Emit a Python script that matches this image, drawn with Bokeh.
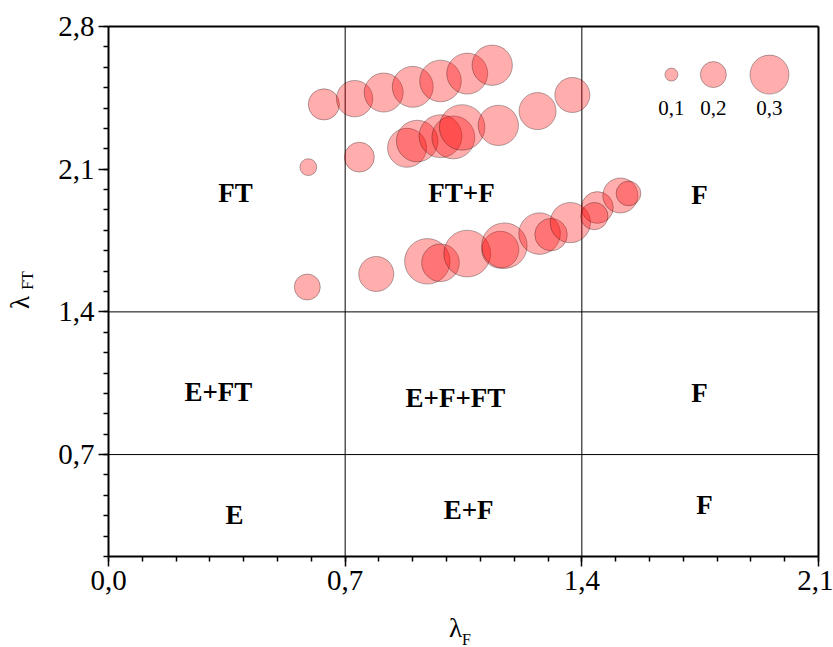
import math
from bokeh.plotting import figure
from bokeh.models import FixedTicker, LinearAxis, Range1d, ColumnDataSource
from bokeh.embed import file_html
from bokeh.resources import INLINE
from bokeh.core.properties import value

# ---------------- data ----------------
# upper series
s1_x = [0.637, 0.728, 0.814, 0.900, 0.982, 1.061, 1.135]
s1_y = [2.418, 2.446, 2.476, 2.504, 2.533, 2.569, 2.610]
s1_v = [0.24, 0.28, 0.30, 0.315, 0.32, 0.315, 0.31]
# middle series
s2_x = [0.591, 0.742, 0.883, 0.913, 0.982, 1.020, 1.046, 1.153, 1.269, 1.372]
s2_y = [2.110, 2.159, 2.205, 2.238, 2.262, 2.256, 2.305, 2.315, 2.385, 2.464]
s2_v = [0.13, 0.23, 0.30, 0.32, 0.33, 0.33, 0.35, 0.31, 0.285, 0.27]
# lower series
s3_x = [0.588, 0.792, 0.943, 0.982, 1.061, 1.159, 1.171, 1.275, 1.309, 1.366, 1.446, 1.437, 1.514, 1.538]
s3_y = [1.522, 1.586, 1.648, 1.641, 1.686, 1.705, 1.725, 1.784, 1.779, 1.838, 1.912, 1.870, 1.971, 1.981]
s3_v = [0.20, 0.27, 0.35, 0.29, 0.36, 0.285, 0.35, 0.32, 0.25, 0.31, 0.245, 0.21, 0.27, 0.19]

# size legend
legend_v = [0.1, 0.2, 0.3]
legend_labels = ["0,1", "0,2", "0,3"]
legend_x = [1.665, 1.789, 1.955]
legend_y = [2.564, 2.564, 2.564]
legend_label_y = [2.40, 2.40, 2.40]

# region labels
region_text = ["FT", "FT+F", "F", "E+FT", "E+F+FT", "F", "E", "E+F", "F"]
region_x = [0.376, 1.044, 1.748, 0.325, 1.026, 1.748, 0.373, 1.065, 1.763]
region_y = [1.981, 1.981, 1.971, 1.007, 0.977, 1.002, 0.402, 0.426, 0.451]

# region boundaries
x_bounds = [0.7, 1.4]
y_bounds = [0.7, 1.4]

# axes
x_min, x_max = 0.0, 2.1
y_min, y_max = 0.2, 2.8
x_ticks = [0.0, 0.7, 1.4, 2.1]
x_tick_labels = ["0,0", "0,7", "1,4", "2,1"]
y_ticks = [0.7, 1.4, 2.1, 2.8]
y_tick_labels = ["0,7", "1,4", "2,1", "2,8"]
x_minor = [round(i * 0.1, 1) for i in range(0, 22)]
y_minor = [round(i * 0.1, 1) for i in range(2, 29)]

# ---------------- layout ----------------
W, H = 833, 647
FRAME_L, FRAME_R, FRAME_T, FRAME_B = 108, 818, 26, 556   # pixel box of the axes
kx = (FRAME_R - FRAME_L) / (x_max - x_min)
ky = (FRAME_B - FRAME_T) / (y_max - y_min)
xr = Range1d(x_min - FRAME_L / kx, x_min + (W - FRAME_L) / kx)
yr = Range1d(y_max - (H - FRAME_T) / ky, y_max + FRAME_T / ky)

def px_x(px):
    return x_min + (px - FRAME_L) / kx

def px_y(py):
    return y_min + (FRAME_B - py) / ky

PX_PER_UNIT = 130  # bubble diameter in px per unit of value
SERIF = "Liberation Serif"

p = figure(width=W, height=H, x_range=xr, y_range=yr, output_backend="svg",
           toolbar_location=None, x_axis_location=None, y_axis_location=None, min_border=0)
p.grid.visible = False
p.outline_line_color = None
p.background_fill_color = "white"
p.border_fill_color = "white"

xaxis = LinearAxis(fixed_location=y_min, bounds=(x_min, x_max))
yaxis = LinearAxis(fixed_location=x_min, bounds=(y_min, y_max))
for ax, ticks, labels, minor in ((xaxis, x_ticks, x_tick_labels, x_minor),
                                 (yaxis, y_ticks, y_tick_labels, y_minor)):
    ax.ticker = FixedTicker(ticks=ticks, minor_ticks=minor)
    ax.major_label_overrides = {t: l for t, l in zip(ticks, labels)}
    ax.axis_line_width = 2
    ax.major_tick_in = 0
    ax.major_tick_out = 10
    ax.minor_tick_in = 0
    ax.minor_tick_out = 5
    ax.major_tick_line_width = 1.5
    ax.minor_tick_line_width = 1.5
    ax.major_label_text_font = SERIF
    ax.major_label_text_font_size = "29px"
    ax.major_label_text_color = "black"
    ax.major_label_standoff = 4
p.add_layout(xaxis, "below")
p.add_layout(yaxis, "left")

# top and right frame lines
p.segment(x0=[x_min, x_max], y0=[y_max, y_min], x1=[x_max, x_max], y1=[y_max, y_max],
          line_color="black", line_width=2)

# region boundary lines
p.segment(x0=x_bounds, y0=[y_min] * len(x_bounds), x1=x_bounds, y1=[y_max] * len(x_bounds),
          line_color="black", line_width=1)
p.segment(x0=[x_min] * len(y_bounds), y0=y_bounds, x1=[x_max] * len(y_bounds), y1=y_bounds,
          line_color="black", line_width=1)

bubble_style = dict(fill_color="red", fill_alpha=0.32, line_color="black", line_alpha=0.3, line_width=1)
for xs, ys, vs in ((s1_x, s1_y, s1_v), (s2_x, s2_y, s2_v), (s3_x, s3_y, s3_v)):
    src = ColumnDataSource(dict(x=xs, y=ys, s=[v * PX_PER_UNIT for v in vs]))
    p.scatter("x", "y", size="s", source=src, marker="circle", **bubble_style)

lsrc = ColumnDataSource(dict(x=legend_x, y=legend_y, ly=legend_label_y,
                             s=[v * PX_PER_UNIT for v in legend_v], t=legend_labels))
p.scatter("x", "y", size="s", source=lsrc, marker="circle", **bubble_style)
p.text("x", "ly", text="t", source=lsrc, text_font=value(SERIF), text_font_size="21px",
       text_align="center", text_baseline="middle", text_color="black")

rsrc = ColumnDataSource(dict(x=region_x, y=region_y, t=region_text))
p.text("x", "y", text="t", source=rsrc, text_font=value(SERIF), text_font_size="27px",
       text_font_style="bold", text_align="center", text_baseline="middle", text_color="black")

# axis titles: lambda with subscripts
title_src = ColumnDataSource(dict(
    x=[px_x(455), px_x(466), px_x(19), px_x(27)],
    y=[px_y(627), px_y(639), px_y(302), px_y(280)],
    t=["λ", "F", "λ", "FT"],
    size=["27px", "16px", "27px", "16px"],
    angle=[0.0, 0.0, math.pi / 2, math.pi / 2],
))
p.text("x", "y", text="t", source=title_src, text_font=value(SERIF), text_font_size="size",
       angle="angle", text_align="center", text_baseline="middle", text_color="black")

open("out.html", "w").write(file_html(p, INLINE))
